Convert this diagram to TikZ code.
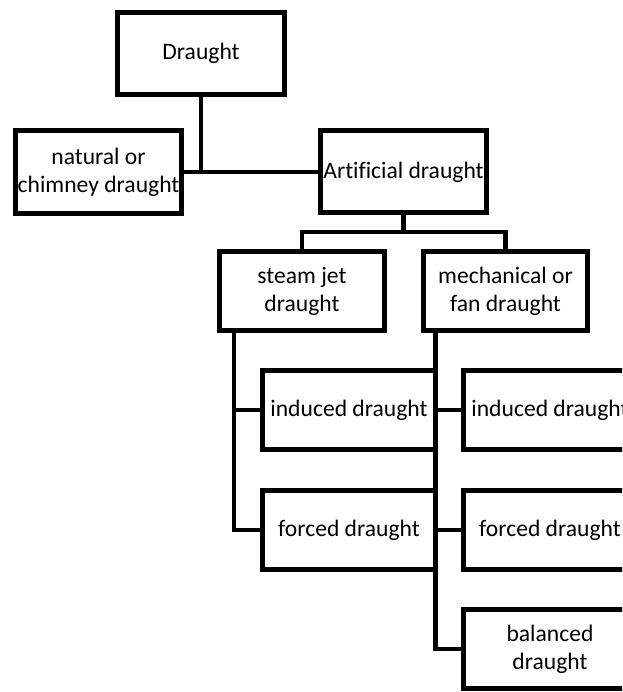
\documentclass[tikz,border=0pt]{standalone}
\usepackage{fontspec}
\setmainfont{Carlito}[Ligatures={NoCommon}]
\usepackage{tikz}

\begin{document}
\begin{tikzpicture}[x=1pt,y=-1pt,
  box/.style={draw=black,line width=5pt,fill=white,align=center,inner sep=1pt,
    font=\fontsize{23.6}{28}\selectfont},
  link/.style={draw=black,line width=4.5pt}]
\useasboundingbox (0,0) rectangle (622,692);
\clip (0,0) rectangle (622,692);
\node[box,minimum width=167pt,minimum height=82pt] (draught) at (201,53.5) {Draught};
\node[box,minimum width=166pt,minimum height=83pt] (natural) at (98.5,172) {natural or\\chimney draught};
\node[box,minimum width=166pt,minimum height=82pt] (artificial) at (403.5,172) {Artificial draught};
\node[box,minimum width=165pt,minimum height=79pt] (steam) at (302,291) {steam jet\\draught};
\node[box,minimum width=164pt,minimum height=79pt] (mech) at (505.5,291) {mechanical or\\fan draught};
\node[box,minimum width=173pt,minimum height=79pt] (indL) at (349,410) {induced draught};
\node[box,minimum width=173pt,minimum height=79pt] (forL) at (349,530) {forced draught};
\node[box,minimum width=173pt,minimum height=79pt] (indR) at (550,410) {induced draught};
\node[box,minimum width=173pt,minimum height=79pt] (forR) at (550,530) {forced draught};
\node[box,minimum width=173pt,minimum height=79pt] (bal) at (550,649) {balanced\\draught};
\coordinate (fork) at (403.5,232);
\coordinate (sj) at ([xshift=17pt]steam.south west);
\coordinate (mf) at ([xshift=14.5pt]mech.south west);
\draw[link] (draught) -- (draught |- natural.east);\draw[link] (natural.east) -- (artificial.west);
\draw[link] (artificial) -- (fork);\draw[link] (steam.north) |- (fork) -| (mech.north);
\draw[link] (sj) |- (forL.west);\draw[link] (indL.west) -- (indL.west -| sj);
\draw[link] (mf) |- (bal.west);\draw[link] (indR.west) -- (indR.west -| mf);\draw[link] (forR.west) -- (forR.west -| mf);
\end{tikzpicture}
\end{document}
